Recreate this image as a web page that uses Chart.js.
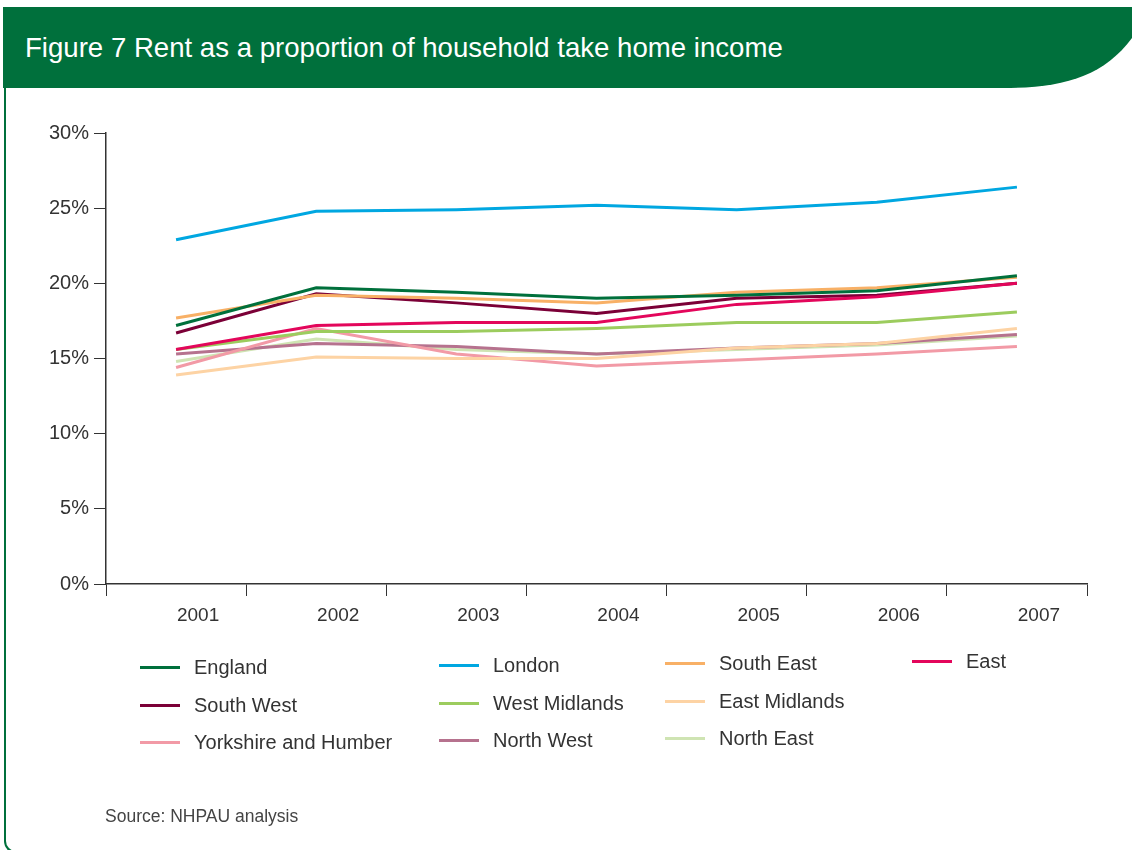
<!DOCTYPE html>
<html>
<head>
<meta charset="utf-8">
<script src="https://cdn.jsdelivr.net/npm/chart.js@4.4.1/dist/chart.umd.min.js"></script>
<style>
  html, body { margin: 0; padding: 0; background: #fff; }
  body { width: 1132px; height: 850px; position: relative; overflow: hidden;
         font-family: "Liberation Sans", Arial, sans-serif; color: #333; }
  #frame { position: absolute; left: 4px; top: 7px; width: 1200px; height: 846px;
           border-left: 2px solid #00703c; border-bottom: 2px solid #00703c;
           border-bottom-left-radius: 12px; box-sizing: border-box; }
  #header { position: absolute; left: 3px; top: 7px; }
  #title { position: absolute; left: 25px; top: 32px; color: #fff; font-size: 27.6px;
           white-space: nowrap; }
  #wrap { position: absolute; left: 0; top: 110px; width: 1100px; height: 524px; }
  #legend { position: absolute; left: 0; top: 0; width: 1132px; height: 850px; pointer-events: none; }
  .item { position: absolute; display: flex; align-items: center; font-size: 20px; color: #333; white-space: nowrap; }
  .item span.sw { display: inline-block; width: 40px; height: 3px; margin-right: 14px; }
  #source { position: absolute; left: 105px; top: 806px; font-size: 17.5px; color: #444; }
</style>
</head>
<body>
<div id="frame"></div>
<svg id="header" width="1129" height="82" viewBox="0 0 1129 82">
  <path d="M0,0 H1129 V31 C1100,70 1060,81 1000,81 H0 Z" fill="#00703c"/>
</svg>
<div id="title">Figure 7 Rent as a proportion of household take home income</div>
<div id="wrap"><canvas id="chart"></canvas></div>
<div id="legend"></div>
<div id="source">Source: NHPAU analysis</div>
<script>
const years = ["2001", "2002", "2003", "2004", "2005", "2006", "2007"];
const yTicks = [0, 5, 10, 15, 20, 25, 30];

const england      = [17.2, 19.7, 19.4, 19.0, 19.2, 19.5, 20.5];
const london       = [22.9, 24.8, 24.9, 25.2, 24.9, 25.4, 26.4];
const southEast    = [17.7, 19.2, 19.0, 18.7, 19.4, 19.7, 20.4];
const east         = [15.6, 17.2, 17.4, 17.4, 18.6, 19.1, 20.0];
const southWest    = [16.7, 19.3, 18.7, 18.0, 19.0, 19.2, 20.0];
const westMidlands = [15.6, 16.8, 16.8, 17.0, 17.4, 17.4, 18.1];
const eastMidlands = [13.9, 15.1, 15.0, 15.0, 15.7, 16.0, 17.0];
const yorkshire    = [14.4, 17.0, 15.3, 14.5, 14.9, 15.3, 15.8];
const northWest    = [15.3, 16.0, 15.8, 15.3, 15.7, 16.0, 16.6];
const northEast    = [14.8, 16.3, 15.6, 15.3, 15.6, 15.9, 16.5];

const series = [
  { label: "England", data: england, color: "#00703c" },
  { label: "London", data: london, color: "#00a7e1" },
  { label: "South East", data: southEast, color: "#f8b066" },
  { label: "East", data: east, color: "#e3065b" },
  { label: "South West", data: southWest, color: "#7b0037" },
  { label: "West Midlands", data: westMidlands, color: "#9ccc5e" },
  { label: "East Midlands", data: eastMidlands, color: "#fdd3a4" },
  { label: "Yorkshire and Humber", data: yorkshire, color: "#f29aa6" },
  { label: "North West", data: northWest, color: "#b6728e" },
  { label: "North East", data: northEast, color: "#cfe4b3" },
];

const xFont = { family: "'Liberation Sans', Arial, sans-serif", size: 19 };
const yFont = { family: "'Liberation Sans', Arial, sans-serif", size: 20 };

const chart = new Chart(document.getElementById("chart"), {
  type: "line",
  data: {
    labels: years,
    datasets: series.map((s) => ({
      label: s.label,
      data: s.data,
      borderColor: s.color,
      backgroundColor: s.color,
      borderWidth: 3,
      pointRadius: 0,
      tension: 0,
    })),
  },
  options: {
    responsive: true,
    maintainAspectRatio: false,
    animation: false,
    layout: { padding: { top: 23, right: 13, left: 0, bottom: 0 } },
    plugins: { legend: { display: false }, tooltip: { enabled: false } },
    scales: {
      x: {
        offset: true,
        grid: { offset: true, drawOnChartArea: false, color: "#333", tickLength: 12 },
        border: { color: "#333", width: 1.5 },
        ticks: { color: "#333", font: xFont, padding: 8, labelOffset: 22, maxRotation: 0 },
        afterFit: (scale) => { scale.height = 50; },
      },
      y: {
        min: 0,
        max: 30,
        afterBuildTicks: (scale) => { scale.ticks = yTicks.map((v) => ({ value: v })); },
        grid: { drawOnChartArea: false, color: "#333", tickLength: 12 },
        border: { color: "#333", width: 1.5 },
        ticks: { color: "#333", font: yFont, padding: 5, callback: (v) => v + "%" },
        afterFit: (scale) => { scale.width = 106; },
      },
    },
  },
});

// legend: 4 + 3 + 3 items, same grid as the original
const legendRows = [[0, 1, 2, 3], [4, 5, 6], [7, 8, 9]];
const colX = [140, 439, 665, 912];
const colShift = [2, 0, -2, -4];
const rowY = [666, 704, 741];
const legendEl = document.getElementById("legend");
legendRows.forEach((row, r) => {
  row.forEach((idx, col) => {
    const ds = chart.data.datasets[idx];
    const item = document.createElement("div");
    item.className = "item";
    item.style.left = colX[col] + "px";
    item.style.top = (rowY[r] + colShift[col] - 12) + "px";
    item.innerHTML = `<span class="sw" style="background:${ds.borderColor}"></span>${ds.label}`;
    legendEl.appendChild(item);
  });
});
</script>
</body>
</html>
